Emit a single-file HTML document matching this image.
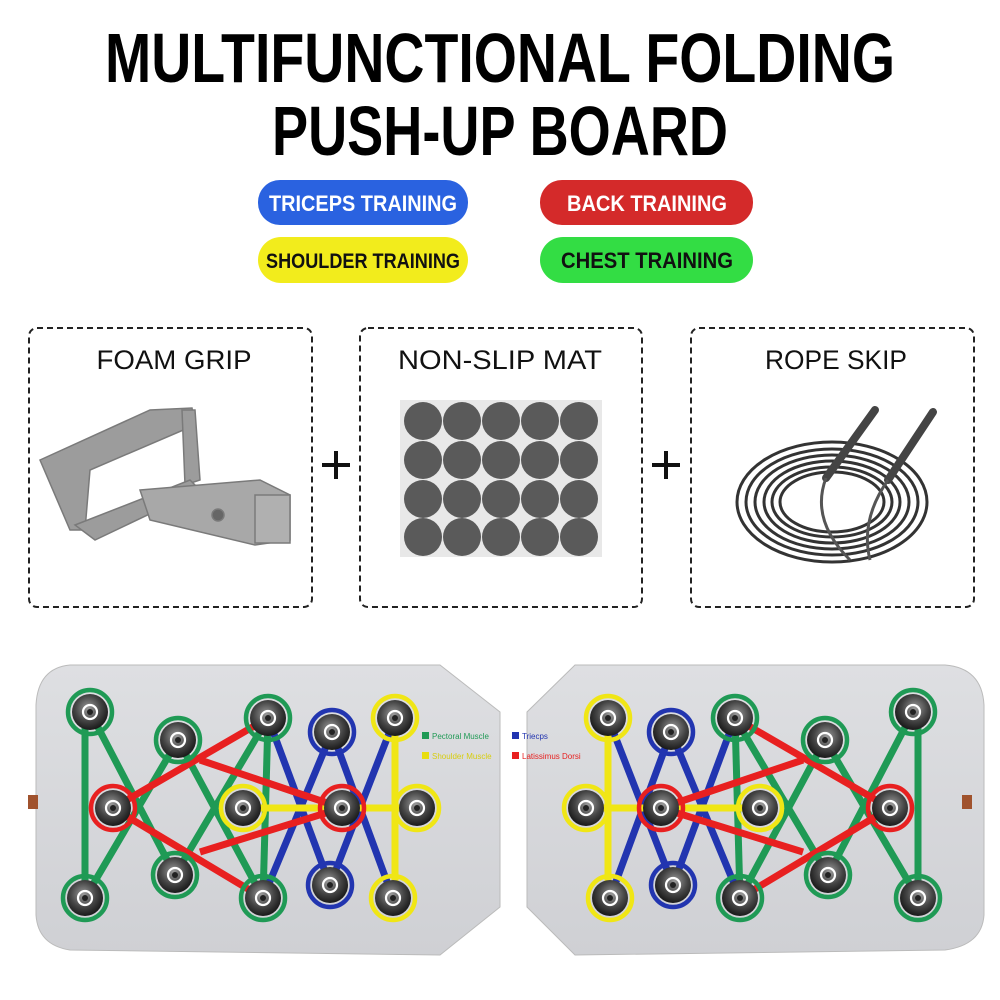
<!DOCTYPE html>
<html><head><meta charset="utf-8"><style>html,body{margin:0;padding:0;background:#fff}svg{display:block}</style></head>
<body>
<svg width="1000" height="1000" viewBox="0 0 1000 1000" xmlns="http://www.w3.org/2000/svg" font-family="Liberation Sans, sans-serif">
<defs>
<radialGradient id="nb" cx="45%" cy="40%" r="60%"><stop offset="0" stop-color="#9a9a9a"/><stop offset="0.6" stop-color="#444"/><stop offset="1" stop-color="#1a1a1a"/></radialGradient>
<linearGradient id="bd" x1="0" y1="0" x2="0" y2="1"><stop offset="0" stop-color="#dedfe2"/><stop offset="1" stop-color="#cfd0d4"/></linearGradient>
<g id="n"><circle r="18" fill="url(#nb)"/><circle r="7" fill="none" stroke="#fff" stroke-width="2.2"/><circle r="3" fill="#222"/></g>
</defs>
<text x="500" y="82" text-anchor="middle" font-size="70" font-weight="bold" textLength="790" lengthAdjust="spacingAndGlyphs">MULTIFUNCTIONAL FOLDING</text>
<text x="500" y="155" text-anchor="middle" font-size="70" font-weight="bold" textLength="456" lengthAdjust="spacingAndGlyphs">PUSH-UP BOARD</text>
<rect x="258" y="180" width="210" height="45" rx="22" fill="#2a62e0"/>
<text x="363" y="211" text-anchor="middle" fill="#fff" font-size="22" font-weight="bold" textLength="188" lengthAdjust="spacingAndGlyphs">TRICEPS TRAINING</text>
<rect x="540" y="180" width="213" height="45" rx="22" fill="#d42a2a"/>
<text x="647" y="211" text-anchor="middle" fill="#fff" font-size="22" font-weight="bold" textLength="160" lengthAdjust="spacingAndGlyphs">BACK TRAINING</text>
<rect x="258" y="237" width="210" height="46" rx="23" fill="#f2ec1c"/>
<text x="363" y="268" text-anchor="middle" fill="#111" font-size="21" font-weight="bold" textLength="194" lengthAdjust="spacingAndGlyphs">SHOULDER TRAINING</text>
<rect x="540" y="237" width="213" height="46" rx="23" fill="#33dd44"/>
<text x="647" y="268" text-anchor="middle" fill="#111" font-size="22" font-weight="bold" textLength="172" lengthAdjust="spacingAndGlyphs">CHEST TRAINING</text>

<g fill="none" stroke="#222" stroke-width="2" stroke-dasharray="6,4">
<rect x="29" y="328" width="283" height="279" rx="8"/>
<rect x="360" y="328" width="282" height="279" rx="8"/>
<rect x="691" y="328" width="283" height="279" rx="8"/>
</g>
<g font-size="27" fill="#111" text-anchor="middle">
<text x="174" y="369" textLength="155" lengthAdjust="spacingAndGlyphs">FOAM GRIP</text>
<text x="500" y="369" textLength="204" lengthAdjust="spacingAndGlyphs">NON-SLIP MAT</text>
<text x="836" y="369" textLength="142" lengthAdjust="spacingAndGlyphs">ROPE SKIP</text>
</g>
<g stroke="#111" stroke-width="4"><path d="M322 465h28M336 451v28M652 465h28M666 451v28"/></g>

<!-- foam grip -->
<g fill="#9c9c9c" stroke="#7a7a7a" stroke-width="1.5">
<path d="M40 460 L150 410 L192 408 L195 425 L90 470 L85 530 L70 530 Z"/>
<path d="M182 410 L195 410 L200 480 L185 485 Z"/>
<path d="M75 525 L190 480 L200 490 L95 540 Z"/>
<path d="M140 490 L260 480 L290 495 L290 540 L255 545 L150 520 Z" fill="#a8a8a8"/>
<rect x="255" y="495" width="35" height="48" fill="#b0b0b0"/>
<circle cx="218" cy="515" r="6" fill="#666"/>
</g>
<!-- mat -->
<rect x="400" y="400" width="202" height="157" fill="#e8e8e8"/>
<g fill="#5a5a5a">
<circle cx="423" cy="421" r="19"/><circle cx="462" cy="421" r="19"/><circle cx="501" cy="421" r="19"/><circle cx="540" cy="421" r="19"/><circle cx="579" cy="421" r="19"/>
<circle cx="423" cy="460" r="19"/><circle cx="462" cy="460" r="19"/><circle cx="501" cy="460" r="19"/><circle cx="540" cy="460" r="19"/><circle cx="579" cy="460" r="19"/>
<circle cx="423" cy="499" r="19"/><circle cx="462" cy="499" r="19"/><circle cx="501" cy="499" r="19"/><circle cx="540" cy="499" r="19"/><circle cx="579" cy="499" r="19"/>
<circle cx="423" cy="537" r="19"/><circle cx="462" cy="537" r="19"/><circle cx="501" cy="537" r="19"/><circle cx="540" cy="537" r="19"/><circle cx="579" cy="537" r="19"/>
</g>
<!-- rope -->
<g fill="none" stroke="#333" stroke-width="3">
<ellipse cx="832" cy="502" rx="95" ry="60"/><ellipse cx="832" cy="502" rx="86" ry="53"/><ellipse cx="832" cy="502" rx="77" ry="47"/><ellipse cx="832" cy="502" rx="68" ry="41"/><ellipse cx="832" cy="502" rx="60" ry="35"/><ellipse cx="832" cy="502" rx="52" ry="30"/>
</g>
<g stroke="#444" stroke-width="8" stroke-linecap="round"><path d="M875 410 L826 478"/><path d="M933 412 L888 480"/></g>
<path d="M826 478 Q810 520 850 560 M888 480 Q860 520 870 560" fill="none" stroke="#555" stroke-width="3"/>

<!-- boards -->
<path d="M70 665 L440 665 L500 712 L500 907 L440 955 L70 950 Q38 945 36 915 L36 705 Q38 668 70 665 Z" fill="url(#bd)" stroke="#bbb"/>
<path d="M575 665 L945 665 Q982 668 984 705 L984 915 Q982 945 945 950 L575 955 L527 907 L527 712 Z" fill="url(#bd)" stroke="#bbb"/>
<rect x="28" y="795" width="10" height="14" fill="#a0522d"/><rect x="962" y="795" width="10" height="14" fill="#a0522d"/>

<g id="L" stroke-width="7" fill="none">
<g stroke="#1f9a55"><path d="M85 712 L85 898"/><path d="M90 712 L175 875"/><path d="M85 898 L178 740"/><path d="M178 740 L263 898"/><path d="M268 718 L175 875"/><path d="M268 718 L263 898"/></g>
<g stroke="#2235b0"><path d="M332 732 L263 898"/><path d="M332 732 L393 898"/><path d="M268 718 L330 885"/><path d="M395 718 L330 885"/></g>
<g stroke="#f0e615"><path d="M243 808 L417 808"/><path d="M395 718 L395 898"/></g>
<g stroke="#e82020"><path d="M113 808 L268 718"/><path d="M113 808 L263 898"/><path d="M200 760 L342 808"/><path d="M200 852 L342 808"/></g>
<g stroke-width="4.5">
<g stroke="#1f9a55"><circle cx="90" cy="712" r="22"/><circle cx="178" cy="740" r="22"/><circle cx="268" cy="718" r="22"/><circle cx="85" cy="898" r="22"/><circle cx="175" cy="875" r="22"/><circle cx="263" cy="898" r="22"/></g>
<g stroke="#2235b0"><circle cx="332" cy="732" r="22"/><circle cx="330" cy="885" r="22"/></g>
<g stroke="#f0e615"><circle cx="395" cy="718" r="22"/><circle cx="243" cy="808" r="22"/><circle cx="417" cy="808" r="22"/><circle cx="393" cy="898" r="22"/></g>
<g stroke="#e82020"><circle cx="113" cy="808" r="22"/><circle cx="342" cy="808" r="22"/></g>
</g>
<use href="#n" x="90" y="712"/><use href="#n" x="178" y="740"/><use href="#n" x="268" y="718"/><use href="#n" x="85" y="898"/><use href="#n" x="175" y="875"/><use href="#n" x="263" y="898"/>
<use href="#n" x="332" y="732"/><use href="#n" x="330" y="885"/><use href="#n" x="395" y="718"/><use href="#n" x="243" y="808"/><use href="#n" x="417" y="808"/><use href="#n" x="393" y="898"/><use href="#n" x="113" y="808"/><use href="#n" x="342" y="808"/>
</g>
<use href="#L" transform="translate(1003,0) scale(-1,1)"/>

<rect x="422" y="732" width="7" height="7" fill="#1f9a55"/><text x="432" y="739" font-size="8" fill="#1f9a55">Pectoral Muscle</text>
<rect x="422" y="752" width="7" height="7" fill="#e8dd10"/><text x="432" y="759" font-size="8" fill="#d8cd10">Shoulder Muscle</text>
<rect x="512" y="732" width="7" height="7" fill="#2235b0"/><text x="522" y="739" font-size="8" fill="#2235b0">Triecps</text>
<rect x="512" y="752" width="7" height="7" fill="#e82020"/><text x="522" y="759" font-size="8" fill="#e82020">Latissimus Dorsi</text>
</svg>
</body></html>
